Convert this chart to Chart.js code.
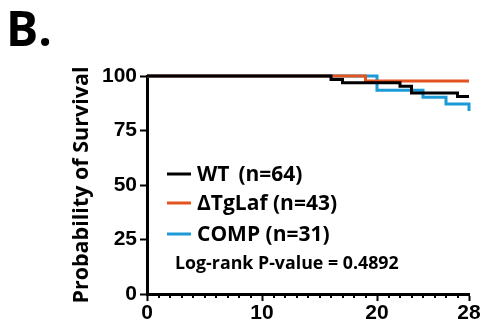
<!DOCTYPE html>
<html>
<head>
<meta charset="utf-8">
<script src="https://cdn.jsdelivr.net/npm/chart.js@4"></script>
<style>
  html, body { margin: 0; padding: 0; background: #fff; }
  #wrap { width: 485px; height: 324px; position: relative; }
</style>
</head>
<body>
<div id="wrap"><canvas id="km"></canvas></div>
<script>
// survival data (days, % surviving)
const wtDays = [0, 16, 17, 22, 23, 27, 28];
const wtSurv = [100, 98.4, 96.9, 95.3, 92.2, 90.6, 90.6];
const tgDays = [0, 19, 28];
const tgSurv = [100, 97.7, 97.7];
const compDays = [0, 20, 24, 26, 28];
const compSurv = [100, 93.5, 90.3, 87.1, 83.9];

const xLabels = [0, 10, 20, 28];
const yLabels = [0, 25, 50, 75, 100];
const legendNames = ['WT \u2009(n=64)', '\u0394TgLaf (n=43)', 'COMP (n=31)'];
const pValueText = 'Log-rank P-value = 0.4892';

const colors = ['#000000', '#E2531F', '#1B9AD7'];

const toPoints = (xs, ys) => xs.map((x, i) => ({ x: x, y: ys[i] }));

// panel letter, legend and p-value, plus the small minor ticks on x
const overlay = {
    id: 'overlay',
    afterDraw(chart) {
        const ctx = chart.ctx;
        const xs = chart.scales.x;
        const ys = chart.scales.y;
        ctx.save();

        // minor ticks every day
        ctx.strokeStyle = '#000';
        ctx.lineWidth = 2;
        for (let d = 0; d <= 28; d++) {
            if (xLabels.includes(d)) continue;
            const px = Math.round(xs.getPixelForValue(d));
            ctx.beginPath();
            ctx.moveTo(px, ys.bottom);
            ctx.lineTo(px, ys.bottom + 4);
            ctx.stroke();
        }

        // panel letter
        ctx.fillStyle = '#000';
        ctx.textBaseline = 'alphabetic';
        ctx.font = 'bold 48px "Open Sans"';
        ctx.fillText('B.', 6, 46);

        // legend
        ctx.font = 'bold 21px "Open Sans"';
        ctx.textBaseline = 'middle';
        const rowY = [174, 203, 234];
        legendNames.forEach((name, i) => {
            ctx.strokeStyle = colors[i];
            ctx.lineWidth = 3;
            ctx.beginPath();
            ctx.moveTo(167, rowY[i]);
            ctx.lineTo(191, rowY[i]);
            ctx.stroke();
            ctx.fillText(name, 197, rowY[i] + 1);
        });

        ctx.font = 'bold 17.8px "Open Sans"';
        ctx.fillText(pValueText, 175, 264);
        ctx.restore();
    }
};

new Chart(document.getElementById('km'), {
    type: 'line',
    data: {
        datasets: [
            { label: 'WT', data: toPoints(wtDays, wtSurv), borderColor: colors[0], order: 0 },
            { label: 'TgLaf', data: toPoints(tgDays, tgSurv), borderColor: colors[1], order: 1 },
            { label: 'COMP', data: toPoints(compDays, compSurv), borderColor: colors[2], order: 2 }
        ].map(ds => Object.assign(ds, {
            stepped: 'before',
            borderWidth: 3,
            pointRadius: 0,
            fill: false,
            clip: false
        }))
    },
    options: {
        responsive: true,
        maintainAspectRatio: false,
        animation: false,
        layout: { padding: { left: 69, top: 76, right: 16, bottom: 0 } },
        plugins: { legend: { display: false }, tooltip: { enabled: false } },
        scales: {
            x: {
                type: 'linear',
                min: 0,
                max: 28,
                afterBuildTicks: (scale) => { scale.ticks = xLabels.map(v => ({ value: v })); },
                afterFit: (scale) => { scale.height = 30; },
                ticks: {
                    color: '#000',
                    font: { family: '"Liberation Sans"', size: 21, weight: 'bold' },
                    padding: 0,
                    maxRotation: 0
                },
                grid: { drawOnChartArea: false, tickLength: 7, tickWidth: 2, tickColor: '#000' },
                border: { color: '#000', width: 3 }
            },
            y: {
                min: 0,
                max: 100,
                afterBuildTicks: (scale) => { scale.ticks = yLabels.map(v => ({ value: v })); },
                afterFit: (scale) => { scale.width = 78; },
                ticks: {
                    color: '#000',
                    font: { family: '"Liberation Sans"', size: 21, weight: 'bold' },
                    padding: 3
                },
                grid: { drawOnChartArea: false, tickLength: 7, tickWidth: 2, tickColor: '#000' },
                border: { color: '#000', width: 3 },
                title: {
                    display: true,
                    text: 'Probability of Survival',
                    color: '#000',
                    font: { family: '"Open Sans"', size: 21.5, weight: 'bold' },
                    padding: 0
                }
            }
        }
    },
    plugins: [overlay]
});
</script>
</body>
</html>
